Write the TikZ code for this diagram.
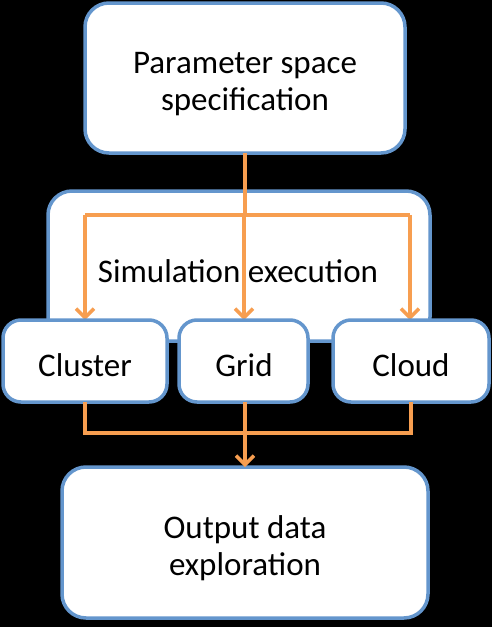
\documentclass[tikz,border=0pt]{standalone}
\usepackage{fontspec}
\setmainfont{Carlito}
\usetikzlibrary{arrows.meta}
\definecolor{bordblue}{RGB}{100,150,205}
\definecolor{arrorange}{RGB}{247,158,80}
\begin{document}
\begin{tikzpicture}[x=1pt,y=-1pt,
  box/.style={draw=bordblue,fill=white,line width=3.5pt,rounded corners=#1},
  box/.default=24pt,
  conn/.style={draw=arrorange,line width=3.5pt},
  arr/.style={conn,-{Straight Barb[length=9pt,width=18pt,line width=3.5pt]}},
  lbl/.style={font=\fontsize{33}{37}\selectfont,align=center,text=black}]
\fill[black] (0,0) rectangle (492,627);
\useasboundingbox (0,0) rectangle (492,627);
% boxes
\draw[box] (85,3) rectangle (405,153);
\node[lbl] (param) at (245,84) {Parameter space\\specification};
\draw[box] (48,191) rectangle (430,341);
\node[lbl] (sim) at (238,271) {Simulation execution};
\coordinate (ptop) at (245,153);
\coordinate (split) at (245,215);
\coordinate (sl) at (85,215);
\coordinate (sr) at (410,215);
\draw[conn] (ptop) -- (split);
\draw[conn] (sl) -- (sr);
\coordinate (clt) at (85,320);
\coordinate (grt) at (244,320);
\coordinate (clo) at (410,320);
\draw[arr] (sl) -- (clt);
\draw[arr] (244,215) -- (grt);
\draw[arr] (sr) -- (clo);
\draw[box=18pt] (3,320) rectangle (167,402);
\node[lbl] (cluster) at (85,365) {Cluster};
\draw[box=18pt] (179,320) rectangle (308,402);
\node[lbl] (grid) at (244,365) {Grid};
\draw[box=18pt] (333,320) rectangle (489,402);
\node[lbl] (cloud) at (411,365) {Cloud};
% bottom
\coordinate (jl) at (85,433);
\coordinate (jm) at (245,433);
\coordinate (jr) at (411,433);
\draw[conn] (85,402) -- (jl) -- (jr) -- (411,402);
\draw[conn] (245,402) -- (jm);
\draw[box] (62,467) rectangle (428,618);
\coordinate (otop) at (245,467);
\draw[arr] (jm) -- (otop);
\node[lbl] (out) at (245,548) {Output data\\exploration};
\end{tikzpicture}
\end{document}
